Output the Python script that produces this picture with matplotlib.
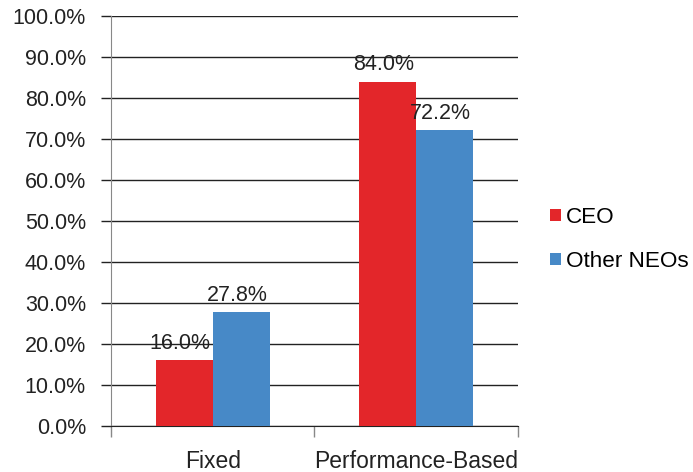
import matplotlib.pyplot as plt
import numpy as np

plt.rcParams['font.family'] = ['Liberation Sans', 'DejaVu Sans']

categories = ['Fixed', 'Performance-Based']
series_names = ['CEO', 'Other NEOs']
ceo = [16.0, 84.0]
other_neos = [27.8, 72.2]
colors = ['#e3262a', '#4789c7']

fs = 15.5
fig = plt.figure(figsize=(6.93, 4.72), dpi=100)
ax = fig.add_axes([0.160, 0.0975, 0.5875, 0.8685])

x = np.arange(len(categories))
w = 0.28
for offset, vals, name, c in [(-w / 2, ceo, series_names[0], colors[0]),
                              (w / 2, other_neos, series_names[1], colors[1])]:
    bars = ax.bar(x + offset, vals, width=w, color=c, label=name, zorder=3)
    for b, v in zip(bars, vals):
        ax.text(b.get_x() + b.get_width() / 2 - 0.02, v + 1.5, f"{v:.1f}%",
                ha='center', va='bottom', fontsize=fs, color='#222222', zorder=4)

ax.set_xlim(-0.5, 1.5)
ax.set_ylim(0, 100)
ax.set_yticks(np.arange(0, 101, 10))
ax.set_yticklabels([f"{v:.1f}%" for v in np.arange(0, 101, 10)], fontsize=fs, color='#222222')
ax.yaxis.grid(True, color='#222222', linewidth=1.0, zorder=0)
ax.tick_params(axis='y', length=7, width=1.0, color='#222222', pad=11)

ax.set_xticks([-0.5, 0.5, 1.5])
ax.set_xticklabels([])
ax.set_xticks(x, minor=True)
ax.set_xticklabels(categories, minor=True, fontsize=16.5, color='#222222')
ax.tick_params(axis='x', which='major', length=8, width=1.0, color='#888888')
ax.tick_params(axis='x', which='minor', length=0, pad=17)

for s in ['top', 'right']:
    ax.spines[s].set_visible(False)
ax.spines['left'].set_color('#888888')
ax.spines['bottom'].set_color('#222222')

ax.legend(loc='center left', bbox_to_anchor=(1.03, 0.455), frameon=False,
          fontsize=16.2, handlelength=0.45, handleheight=0.45, handletextpad=0.25,
          labelspacing=1.0)

fig.savefig('out.png', dpi=100)
